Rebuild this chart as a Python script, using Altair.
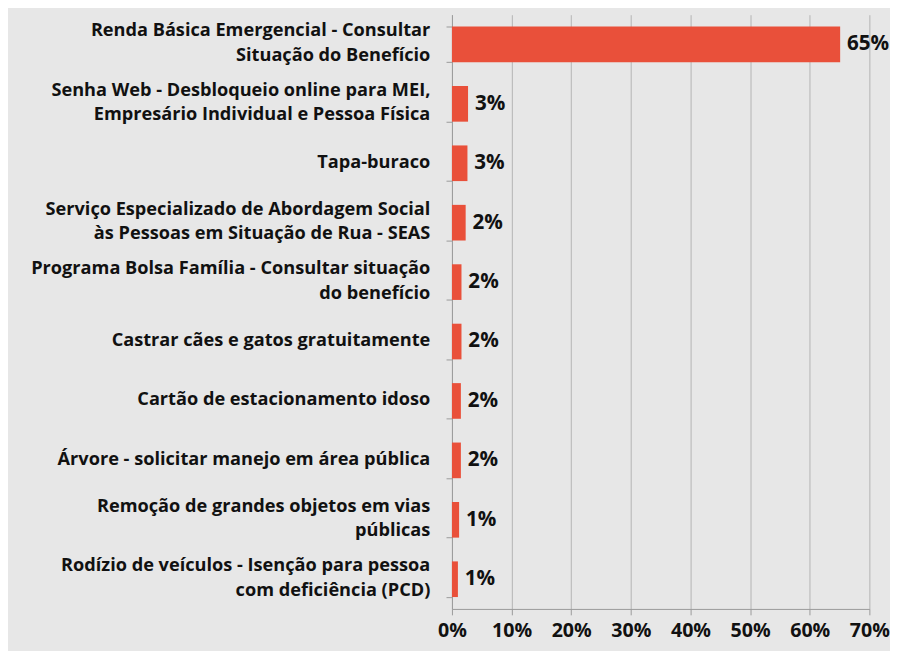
import altair as alt
import pandas as pd

categories = [
    "Renda Básica Emergencial - Consultar|Situação do Benefício",
    "Senha Web - Desbloqueio online para MEI,|Empresário Individual e Pessoa Física",
    "Tapa-buraco",
    "Serviço Especializado de Abordagem Social|às Pessoas em Situação de Rua - SEAS",
    "Programa Bolsa Família - Consultar situação|do benefício",
    "Castrar cães e gatos gratuitamente",
    "Cartão de estacionamento idoso",
    "Árvore - solicitar manejo em área pública",
    "Remoção de grandes objetos em vias|públicas",
    "Rodízio de veículos - Isenção para pessoa|com deficiência (PCD)",
]
values = [0.651, 0.027, 0.026, 0.023, 0.016, 0.016, 0.015, 0.015, 0.012, 0.010]
labels = ["65%", "3%", "3%", "2%", "2%", "2%", "2%", "2%", "1%", "1%"]

df = pd.DataFrame({"cat": categories, "value": values, "label": labels})

FONT = "Open Sans"
BAR = "#E9503A"
BG = "#E7E7E7"
LH = 25

y = alt.Y(
    "cat:N",
    sort=categories,
    scale=alt.Scale(paddingInner=0.4, paddingOuter=0.2),
    axis=alt.Axis(
        title=None,
        labels=False,
        tickBand="extent",
        tickColor="#9a9a9a",
        tickSize=6,
        domainColor="#9a9a9a",
        grid=False,
    ),
)

x = alt.X(
    "value:Q",
    scale=alt.Scale(domain=[0, 0.7], nice=False),
    axis=alt.Axis(
        title=None,
        format=".0%",
        values=[0, 0.1, 0.2, 0.3, 0.4, 0.5, 0.6, 0.7],
        labelFont=FONT,
        labelFontWeight="bold",
        labelFontSize=20,
        labelColor="#111111",
        labelPadding=6,
        labelOverlap=False,
        labelFlush=False,
        tickColor="#9a9a9a",
        tickSize=6,
        domainColor="#9a9a9a",
        grid=True,
        gridColor="#b4b4b4",
        gridWidth=1,
    ),
)

base = alt.Chart(df)
bars = base.mark_bar(color=BAR).encode(x=x, y=y)
text = base.mark_text(
    align="left", baseline="middle", dx=7, font=FONT, fontWeight="bold",
    fontSize=21, color="#111111"
).encode(x="value:Q", y=alt.Y("cat:N", sort=categories), text="label:N")

cat_labels = (
    base.transform_calculate(
        lines="split(datum.cat, '|')",
        off=f"17 - length(split(datum.cat, '|')) * {LH / 2}",
    )
    .mark_text(
        align="right", baseline="line-top", lineHeight=LH, font=FONT,
        fontWeight="bold", fontSize=18.5, color="#111111",
    )
    .encode(
        x=alt.value(-22),
        y=alt.Y("cat:N", sort=categories),
        yOffset=alt.YOffset("off:Q", scale=None),
        text="lines:N",
    )
)

chart = (
    (bars + text + cat_labels)
    .properties(
        width=425, height=605, background=BG,
        padding={"left": 23, "top": 1, "right": 0, "bottom": 5},
    )
    .configure_view(stroke=None)
)

chart.save("out.html", embed_options={"renderer": "svg", "actions": False})
